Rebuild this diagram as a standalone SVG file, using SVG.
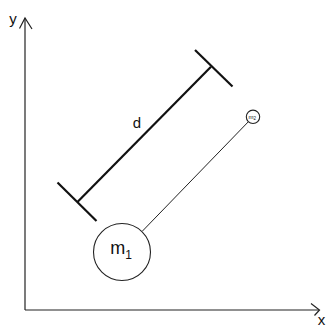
<svg xmlns="http://www.w3.org/2000/svg" width="328" height="327" viewBox="0 0 328 327">
<style>
.ax{stroke:#222;stroke-width:1.2;fill:none}
.bar{stroke:#111;stroke-width:2.2;fill:none}
.ln{stroke:#222;stroke-width:1;fill:none}
.node{stroke:#222;stroke-width:1.1;fill:#fff}
text{font-family:"Liberation Sans",Arial,sans-serif;fill:#111}
</style>
<rect width="328" height="327" fill="#fff"/>
<g id="axes">
<line class="ax" x1="25" y1="310" x2="25" y2="18"/>
<polyline class="ax" points="19.5,28.5 25,18 32,29"/>
<line class="ax" x1="25" y1="310" x2="319" y2="310"/>
<polyline class="ax" points="311,303.5 319.5,310 314.5,315.5"/>
<text x="13" y="24" font-size="15" text-anchor="middle">y</text>
<text x="321.5" y="325" font-size="15" text-anchor="middle">x</text>
</g>
<g id="connectors">
<line class="ln" x1="142.5" y1="231" x2="248.3" y2="121.8"/>
</g>
<g id="d-bar">
<line class="bar" x1="77.7" y1="201.7" x2="211" y2="66.7"/>
<line class="bar" x1="57.5" y1="182.5" x2="96.5" y2="221"/>
<line class="bar" x1="195" y1="50" x2="232.5" y2="86.5"/>
<text x="137" y="128" font-size="15" text-anchor="middle">d</text>
</g>
<g id="m1">
<circle class="node" cx="122" cy="252" r="28.5"/>
<text x="121" y="253.5" font-size="18" text-anchor="middle">m<tspan font-size="12" dy="5">1</tspan></text>
</g>
<g id="m2">
<circle class="node" cx="253" cy="116.8" r="6.7"/>
<text x="252.3" y="118.5" font-size="6" text-anchor="middle">m<tspan font-size="4.5" dy="1.5">2</tspan></text>
</g>
</svg>
